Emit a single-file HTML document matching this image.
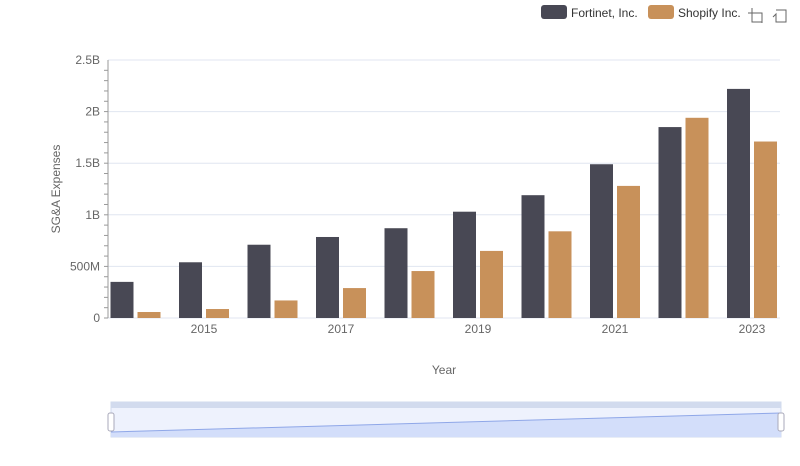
<!DOCTYPE html>
<html><head><meta charset="utf-8"><style>
body{margin:0;background:#fff;font-family:"Liberation Sans",sans-serif;}
svg text{font-family:"Liberation Sans",sans-serif;}
</style></head><body>
<svg id="c" width="800" height="461">
<g id="grid"></g><g id="bars"></g><g id="axes"></g>
<g>
<rect x="541" y="5" width="26" height="14" rx="3" fill="#484854"/>
<text x="571" y="17" font-size="12" fill="#333">Fortinet, Inc.</text>
<rect x="648" y="5" width="26" height="14" rx="3" fill="#c8915a"/>
<text x="678" y="17" font-size="12" fill="#333">Shopify Inc.</text>
</g>
<g stroke="#666" fill="none"><path d="M748 13h14v10M752 8v14h10"/></g>
<g stroke="#666" fill="none"><path d="M776 10h10v12h-10v-8l-3 3"/></g>
<text x="444" y="374" font-size="12" fill="#666" text-anchor="middle">Year</text>
<text transform="translate(60,189) rotate(-90)" font-size="12" fill="#666" text-anchor="middle">SG&amp;A Expenses</text>
<g>
<rect x="111" y="402" width="670" height="35" fill="#eef2fd" stroke="#d2dbee"/>
<rect x="111" y="402" width="670" height="6" fill="#d2dbee"/>
<path d="M111 432 L781 413 L781 437 L111 437Z" fill="#d3defa"/>
<path d="M111 432 L781 413" stroke="#8fa7e8" fill="none"/>
<rect x="108" y="413" width="6" height="18" rx="2" fill="#fff" stroke="#aab"/>
<rect x="778" y="413" width="6" height="18" rx="2" fill="#fff" stroke="#aab"/>
</g>
</svg>
<script>
const years=[2014,2015,2016,2017,2018,2019,2020,2021,2022,2023];
const fortinet=[0.35,0.54,0.71,0.785,0.87,1.03,1.19,1.49,1.85,2.22];
const shopify=[0.058,0.087,0.17,0.29,0.455,0.65,0.84,1.28,1.94,1.71];
const yTicks=[0,0.5,1,1.5,2,2.5];
const yTickLabels=["0","500M","1B","1.5B","2B","2.5B"];
const NS="http://www.w3.org/2000/svg";
const y=v=>318-v*103.2;
const x=i=>135.5+68.5*i;
function mk(p,t,a){const e=document.createElementNS(NS,t);for(const k in a)e.setAttribute(k,a[k]);p.appendChild(e);return e;}
const grid=document.getElementById('grid'),bars=document.getElementById('bars'),axes=document.getElementById('axes');
yTicks.forEach((v,i)=>{
 const l=mk(grid,'line',{x1:108,x2:780,y1:y(v),y2:y(v),stroke:'#e0e6f0'});
 
 
 const t=mk(axes,'text',{x:100,y:y(v)+4,'font-size':12,fill:'#666','text-anchor':'end'});
 t.textContent=yTickLabels[i];
 
 
});
for(let v=0;v<2.5;v+=0.1){mk(axes,'line',{x1:104,x2:108,y1:y(v),y2:y(v),stroke:'#999'});}
mk(axes,'line',{x1:108,x2:108,y1:60,y2:318,stroke:'#999'});
years.forEach((yr,i)=>{
 const a=mk(bars,'rect',{x:x(i)-25,y:y(fortinet[i]),width:23,height:318-y(fortinet[i]),fill:'#484854'});
 
 
 const b=mk(bars,'rect',{x:x(i)+2,y:y(shopify[i]),width:23,height:318-y(shopify[i]),fill:'#c8915a'});
 
 
 if(yr%2===1){
  const t=mk(axes,'text',{x:x(i),y:333,'font-size':12,fill:'#666','text-anchor':'middle'});
  t.textContent=yr;
  
  
 }
});
</script>
</body></html>
